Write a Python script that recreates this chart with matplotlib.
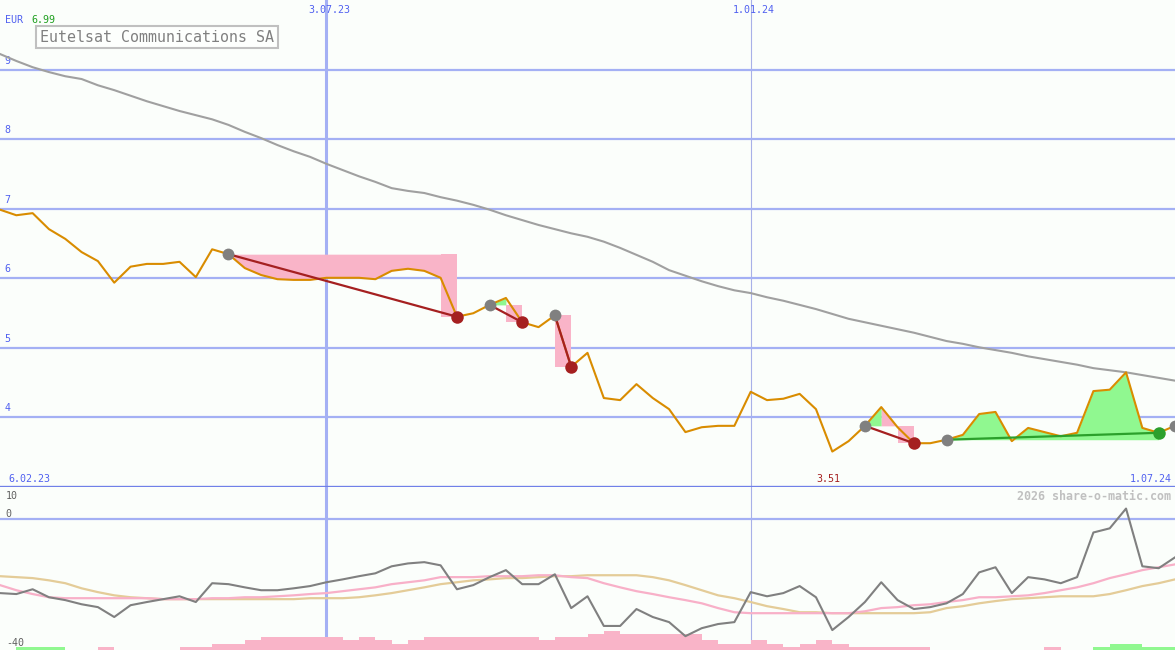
import numpy as np
import matplotlib.pyplot as plt

# weekly closes (EUR), index 0 = first week shown
price = [6.99, 6.91, 6.94, 6.71, 6.57, 6.38, 6.25, 5.94, 6.17, 6.21,
         6.21, 6.24, 6.02, 6.42, 6.35, 6.15, 6.05, 5.99, 5.98, 5.98,
         6.01, 6.01, 6.01, 5.99, 6.11, 6.14, 6.11, 6.01, 5.45, 5.50,
         5.62, 5.72, 5.37, 5.30, 5.47, 4.73, 4.93, 4.28, 4.25, 4.48,
         4.28, 4.12, 3.79, 3.86, 3.88, 3.88, 4.37, 4.25, 4.27, 4.34,
         4.12, 3.51, 3.66, 3.88, 4.15, 3.86, 3.63, 3.63, 3.68, 3.75,
         4.05, 4.08, 3.66, 3.85, 3.79, 3.73, 3.78, 4.38, 4.40, 4.65,
         3.85, 3.78, 3.88]

# long moving average
ma = [9.23, 9.13, 9.04, 8.97, 8.91, 8.87, 8.78, 8.71, 8.63, 8.55,
      8.48, 8.41, 8.35, 8.29, 8.21, 8.11, 8.02, 7.92, 7.83, 7.75,
      7.65, 7.56, 7.47, 7.39, 7.30, 7.26, 7.23, 7.17, 7.12, 7.06,
      6.99, 6.91, 6.84, 6.77, 6.71, 6.65, 6.60, 6.53, 6.44, 6.34,
      6.24, 6.12, 6.04, 5.96, 5.89, 5.83, 5.79, 5.73, 5.68, 5.62,
      5.56, 5.49, 5.42, 5.37, 5.32, 5.27, 5.22, 5.16, 5.10, 5.06,
      5.01, 4.97, 4.93, 4.88, 4.84, 4.80, 4.76, 4.71, 4.68, 4.65,
      4.61, 4.57, 4.53]

# lower panel: oscillator and its two averages
osc = [-23.1, -23.4, -21.9, -24.4, -25.3, -26.6, -27.5, -30.6, -26.9, -25.9,
       -25.0, -24.1, -25.9, -20.0, -20.3, -21.3, -22.2, -22.2, -21.6, -20.9,
       -19.7, -18.8, -17.8, -16.9, -14.7, -13.8, -13.4, -14.4, -21.9, -20.6,
       -18.1, -15.9, -20.3, -20.3, -17.2, -27.8, -24.1, -33.4, -33.4, -28.1,
       -30.6, -32.2, -36.6, -34.1, -32.8, -32.2, -22.8, -24.1, -23.1, -20.9,
       -24.4, -34.7, -30.6, -25.9, -19.7, -25.3, -28.1, -27.5, -26.3, -23.4,
       -16.6, -15.0, -23.1, -18.1, -18.8, -20.0, -18.1, -4.1, -2.8, 3.4,
       -14.7, -15.3, -11.9]

osc_fast = [-20.6, -22.2, -23.4, -24.4, -24.7, -24.7, -24.7, -24.7, -24.7, -24.7,
            -25.0, -25.0, -25.0, -24.7, -24.7, -24.4, -24.4, -24.1, -23.8, -23.4,
            -23.1, -22.5, -21.9, -21.3, -20.3, -19.7, -19.1, -18.1, -18.1, -18.1,
            -17.8, -17.8, -17.8, -17.5, -17.5, -18.1, -18.4, -20.0, -21.3, -22.5,
            -23.4, -24.4, -25.3, -26.3, -27.8, -29.1, -29.4, -29.4, -29.4, -29.4,
            -29.4, -29.4, -29.4, -28.8, -27.8, -27.5, -26.9, -26.6, -25.9, -25.3,
            -24.4, -24.4, -24.1, -23.8, -23.1, -22.2, -21.3, -20.0, -18.4, -17.2,
            -15.9, -15.0, -14.1]

osc_slow = [-17.8, -18.1, -18.4, -19.1, -20.0, -21.6, -22.8, -23.8, -24.4, -24.7,
            -25.0, -25.0, -25.0, -25.0, -25.0, -25.0, -25.0, -25.0, -25.0, -24.7,
            -24.7, -24.7, -24.4, -23.8, -23.1, -22.2, -21.3, -20.3, -19.7, -19.1,
            -18.8, -18.4, -18.4, -18.1, -17.8, -17.8, -17.5, -17.5, -17.5, -17.5,
            -18.1, -19.1, -20.6, -22.2, -23.8, -24.7, -25.9, -27.2, -28.1, -29.1,
            -29.1, -29.4, -29.4, -29.4, -29.4, -29.4, -29.4, -29.1, -27.8, -27.2,
            -26.3, -25.6, -25.0, -24.7, -24.4, -24.1, -24.1, -24.1, -23.4, -22.2,
            -20.9, -20.0, -18.8]

# bottom strip: + green, - pink
hist = [0, 1, 1, 1, 0, 0, -1, 0, 0, 0,
        0, -1, -1, -2, -2, -3, -4, -4, -4, -4,
        -4, -3, -4, -3, -2, -3, -4, -4, -4, -4,
        -4, -4, -4, -3, -4, -4, -5, -6, -5, -5,
        -5, -5, -5, -3, -2, -2, -3, -2, -1, -2,
        -3, -2, -1, -1, -1, -1, -1, 0, 0, 0,
        0, 0, 0, 0, -1, 0, 0, 1, 2, 2,
        1, 1]

# signals: (entry week, exit week)
trades = [(14, 28), (30, 32), (34, 35), (53, 56), (58, 71)]
open_entry = 72

date_idx = [20, 46]
date_lbl = ['3.07.23', '1.01.24']
first_lbl, last_lbl = '6.02.23', '1.07.24'
price_ticks = [4, 5, 6, 7, 8, 9]

bg = '#fbfefb'
grid = '#a4b0f4'
pink = '#f9b4c8'
green = '#90f890'
orange = '#d98c00'
darkred = '#a52020'
darkgreen = '#2ca02c'
blue_txt = '#5060f0'
mono = 'DejaVu Sans Mono'

W, H = 1175, 650
split = 487
fig = plt.figure(figsize=(W / 100, H / 100), dpi=100)
fig.patch.set_facecolor(bg)
ax = fig.add_axes([0, (H - split) / H, 1, split / H])
axl = fig.add_axes([0, 0, 1, (H - split) / H])

x = np.arange(len(price))
price = np.array(price)

for a in (ax, axl):
    a.set_facecolor(bg)
    a.set_xlim(0, len(price) - 1)
    for s in a.spines.values():
        s.set_visible(False)
    a.set_xticks([])
    a.set_yticks([])
    a.axvline(date_idx[0], color=grid, lw=2.2, zorder=1)
    a.axvline(date_idx[1], color='#a8b0e8', lw=0.8, zorder=1)

ax.set_ylim(3.0, 10.007)
axl.set_ylim(-40.94, 10.16)

# main panel grid
for v in price_ticks:
    ax.axhline(v, color=grid, lw=1.6, zorder=1)
    ax.text(0.004, v + 0.06, str(v), transform=ax.get_yaxis_transform(),
            fontsize=7.2, family=mono, color=blue_txt, va='bottom', ha='left')
ax.axhline(3.0, color='#7080e8', lw=2.4, zorder=5, clip_on=False)

# trade fills: runs of same colour drawn as one patch
for s, e in trades:
    lvl = price[s]
    win = price[e] > lvl
    cols = []
    for j in range(s, e - (0 if win else 1)):
        ps = price[j:j + 2]
        up = ps[1] > ps[0] and ps.min() >= lvl
        cols.append(green if (win or up) else pink)
    k = 0
    while k < len(cols):
        m = k
        while m + 1 < len(cols) and cols[m + 1] == cols[k]:
            m += 1
        xs = x[s + k:s + m + 2]
        ax.fill_between(xs, lvl, price[s + k:s + m + 2], color=cols[k],
                        lw=0, zorder=2)
        k = m + 1
    if not win:
        # last leg drops straight to the exit level
        ax.fill_between(x[e - 1:e + 1], lvl, price[e], color=pink, lw=0, zorder=2)

ax.plot(x, ma, color='#a0a0a0', lw=1.5, zorder=3)
ax.plot(x, price, color=orange, lw=1.5, zorder=4)

for s, e in trades:
    win = price[e] > price[s]
    ax.plot([s, e], [price[s], price[e]], color=darkgreen if win else darkred,
            lw=1.6, zorder=5)
    ax.plot(s, price[s], 'o', color='#808080', ms=8.5, mec='none', zorder=6)
    ax.plot(e, price[e], 'o', color=darkgreen if win else darkred, ms=9,
            mec='none', zorder=6)
ax.plot(open_entry, price[open_entry], 'o', color='#808080', ms=8.5, mec='none', zorder=6)

# labels in main panel
fig.text(5 / W, 1 - 20 / H, 'EUR', fontsize=7.2, family=mono, color=blue_txt, va='center')
fig.text(31 / W, 1 - 20 / H, f'{price[0]:.2f}', fontsize=7.2, family=mono,
         color='#20a020', va='center')
fig.text(40 / W, 1 - 37 / H, 'Eutelsat Communications SA', fontsize=10.8, family=mono,
         color='#808080', va='center', ha='left',
         bbox=dict(boxstyle='square,pad=0.25', fc='#fdfffd', ec='#c0c0c0', lw=1.5))
for i, lbl in zip(date_idx, date_lbl):
    ax.text(i + 0.2, 9.87, lbl, fontsize=7.2, family=mono, color=blue_txt,
            ha='center', va='center')
ax.text(0.5, 3.12, first_lbl, fontsize=7.2, family=mono, color=blue_txt,
        ha='left', va='center')
ax.text(len(price) - 1.2, 3.12, last_lbl, fontsize=7.2, family=mono, color=blue_txt,
        ha='right', va='center')
lo = int(np.argmin(price))
ax.text(lo - 0.25, 3.12, f'{price[lo]:.2f}', fontsize=7.2, family=mono,
        color=darkred, ha='center', va='center')

# lower panel
axl.axhline(0, color=grid, lw=1.6, zorder=1)
axl.plot(x, osc_slow, color='#e4cc98', lw=1.6, zorder=3)
axl.plot(x, osc_fast, color='#f8b0c8', lw=1.6, zorder=3)
axl.plot(x, osc, color='#808080', lw=1.5, zorder=4)
hb = np.array(hist, dtype=float)
axl.bar(np.arange(len(hb)), np.abs(hb), bottom=-40.94, width=1, align='edge',
        color=[green if h > 0 else pink for h in hb], lw=0, zorder=2)
axl.text(0.005, 7.2, '10', transform=axl.get_yaxis_transform(), fontsize=7.2,
         family=mono, color='#606060', va='center')
axl.text(0.005, 1.6, '0', transform=axl.get_yaxis_transform(), fontsize=7.2,
         family=mono, color='#606060', va='center')
axl.text(0.005, -38.6, '-40', transform=axl.get_yaxis_transform(), fontsize=7.2,
         family=mono, color='#606060', va='center')
axl.text(0.997, 7.2, '2026 share-o-matic.com', transform=axl.get_yaxis_transform(),
         fontsize=8.4, family=mono, color='#c0c0c0', ha='right', va='center',
         fontweight='bold')

fig.savefig('out.png', dpi=100, facecolor=bg)
